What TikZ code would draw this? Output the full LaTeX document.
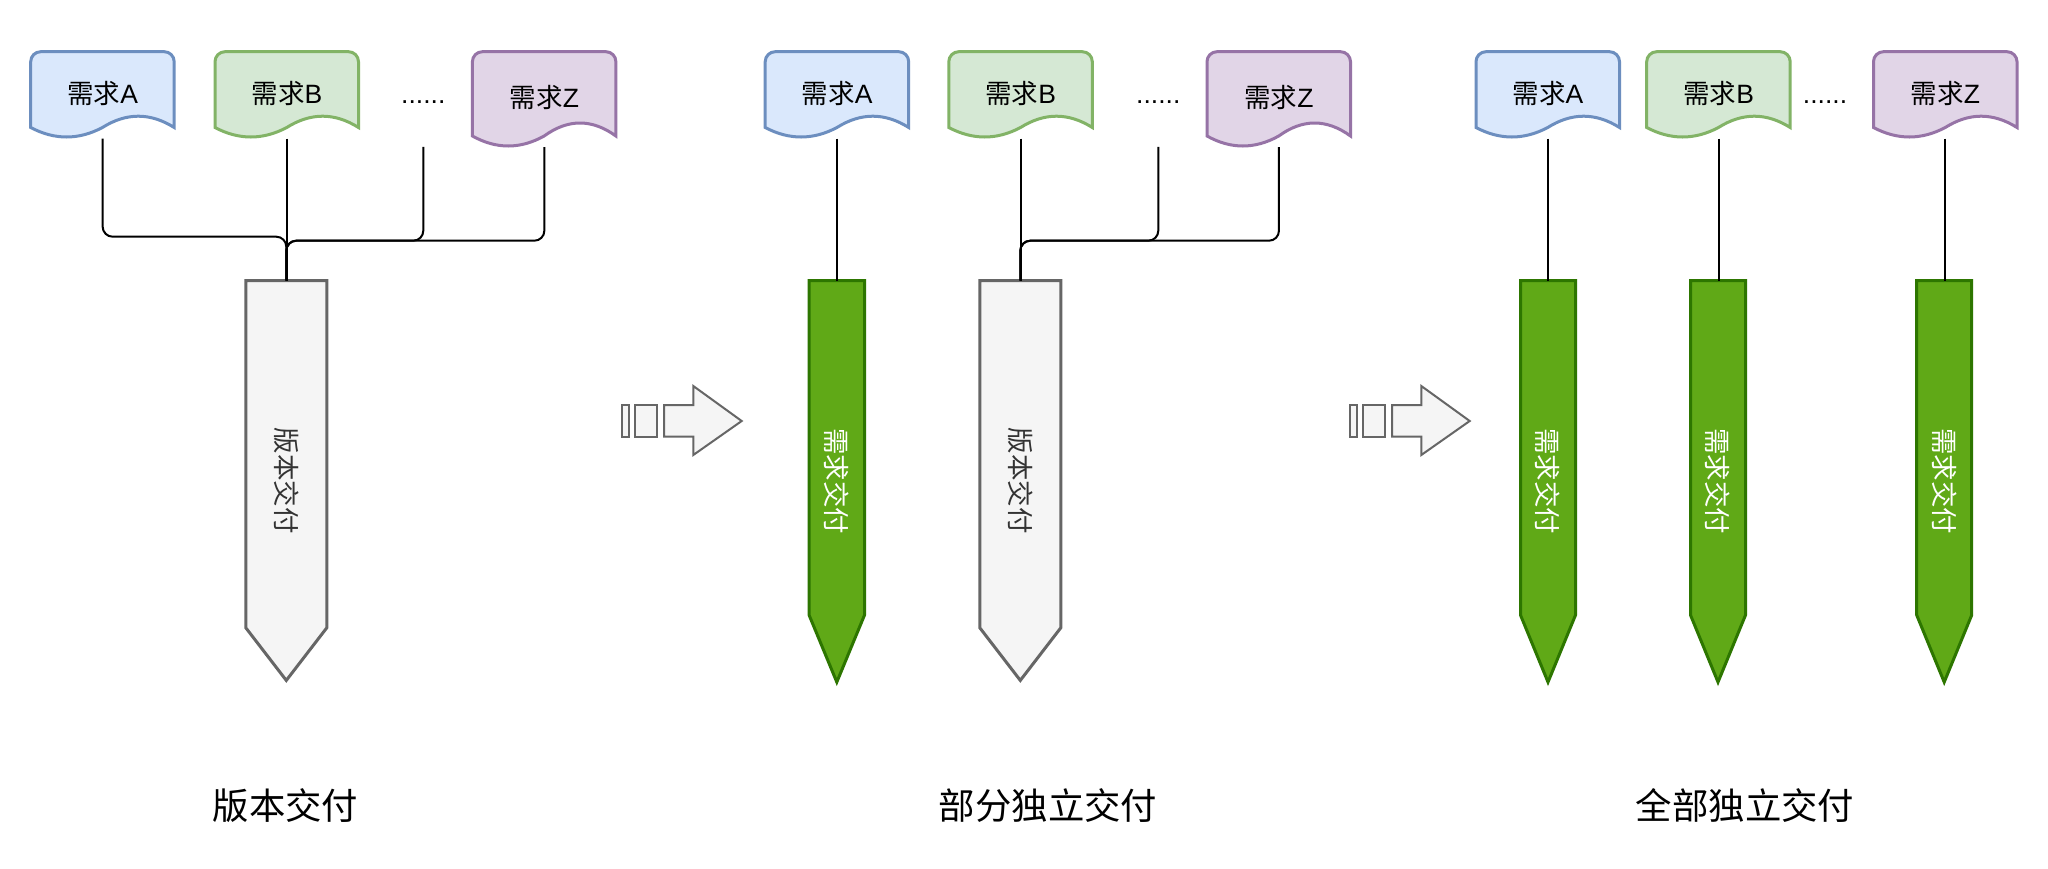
\documentclass[tikz,border=0pt]{standalone}
\usepackage{fontspec}
\setmainfont{Liberation Sans}
\newfontfamily\cjk{Noto Sans CJK SC}
\usetikzlibrary{calc}
\definecolor{aFill}{HTML}{DAE8FC}\definecolor{aLine}{HTML}{6C8EBF}
\definecolor{bFill}{HTML}{D5E8D4}\definecolor{bLine}{HTML}{82B366}
\definecolor{zFill}{HTML}{E1D5E7}\definecolor{zLine}{HTML}{9673A6}
\definecolor{gFill}{HTML}{F5F5F5}\definecolor{gLine}{HTML}{666666}
\definecolor{grFill}{HTML}{60A917}\definecolor{grLine}{HTML}{2D7600}
\definecolor{gText}{HTML}{333333}
\tikzset{
  docA/.style={fill=aFill,draw=aLine,line width=3pt},
  docB/.style={fill=bFill,draw=bLine,line width=3pt},
  docZ/.style={fill=zFill,draw=zLine,line width=3pt},
  boxnode/.style={inner sep=0pt,minimum width=143.5pt,text height=17pt,text depth=0pt,
    font=\fontsize{26.5}{30}\selectfont},
  dotsnode/.style={inner sep=0pt,minimum width=60pt,minimum height=95pt,text height=8.2pt,text depth=0pt,
    font=\fontsize{26.5}{30}\selectfont},
  barbox/.style={inner sep=0pt,draw=none},
  greybar/.style={fill=gFill,draw=gLine,line width=3pt,line join=miter},
  greenbar/.style={fill=grFill,draw=grLine,line width=3pt,line join=miter},
  bartext/.style={rotate=-90,inner sep=0pt,font=\fontsize{26.5}{30}\selectfont\cjk},
  conn/.style={draw=black,line width=2pt,rounded corners=10pt},
  stepst/.style={fill=gFill,draw=gLine,line width=2pt,line join=miter},
  title/.style={inner sep=0pt,font=\fontsize{36.4}{40}\selectfont\cjk}
}
% #1 name, #2 style, #3 x0, #4 ye, #5 aup, #6 adn, #7 bottom, #8 text
\newcommand\docbox[8]{%
  \draw[#2] ({#3+143.5},#4)
    .. controls ({#3+143.5-23.917},{#4-4*#5/3}) and ({#3+71.75+23.917},{#4-4*#5/3}) .. ({#3+71.75},#4)
    .. controls ({#3+71.75-23.917},{#4+4*#6/3}) and ({#3+23.917},{#4+4*#6/3}) .. (#3,#4)
    -- (#3,61.7) .. controls (#3,56.18) and ({#3+4.48},51.7) .. ({#3+10},51.7)
    -- ({#3+133.5},51.7) .. controls ({#3+139.02},51.7) and ({#3+143.5},56.18) .. ({#3+143.5},61.7)
    -- cycle;
  \node[boxnode,anchor=north west,minimum height={#7-51.7}] (#1) at (#3,51.7) {#8};
}
% #1 name, #2 style, #3 cx, #4 width, #5 total height, #6 tip depth
\newcommand\barshape[6]{%
  \node[barbox,minimum width=#4,minimum height=#5,anchor=north] (#1) at (#3,280.7) {};
  \draw[#2] (#1.north west) -- (#1.north east) -- ($(#1.south east)+(0,-#6)$)
    -- (#1.south) -- ($(#1.south west)+(0,-#6)$) -- cycle;
}
\newcommand\steparrow{%
  \draw[stepst] (621.7,405) rectangle (629.3,436.7);
  \draw[stepst] (635,405) rectangle (656.7,436.7);
  \draw[stepst] (664,405) -- (693.3,405) -- (693.3,386) -- (741.7,421) -- (693.3,455)
    -- (693.3,436.7) -- (664,436.7) -- cycle;
}
\begin{document}
\begin{tikzpicture}[x=1pt,y=-1pt]
\useasboundingbox[fill=white] (0,0) rectangle (2048,868);

% ---------- panel 1 ----------
\docbox{p1a}{docA}{30.7}{127.5}{11.3}{9.5}{138.3}{{\cjk 需求}A}
\docbox{p1b}{docB}{215}{127.5}{11.3}{9.5}{138.3}{{\cjk 需求}B}
\node[dotsnode] (p1d) at (423.3,99.2) {......};
\docbox{p1z}{docZ}{472.4}{136}{13}{10}{146.7}{{\cjk 需求}Z}
\barshape{bar1}{greybar}{286.3}{80.7}{399.3}{52.7}
\node[bartext,text=gText] (bar1t) at (bar1.center) {版本交付};
\draw[conn] (p1a.south) |- ($(bar1.north)+(0,-44)$) -- (bar1.north);
\draw[conn] (p1b.south) -- (p1b.south |- bar1.north);
\draw[conn] (p1d.south) |- ($(bar1.north)+(0,-40)$) -- (bar1.north);
\draw[conn] (p1z.south) |- ($(bar1.north)+(0,-40)$) -- (bar1.north);
\node[title] (t1) at (285.5,805.6) {版本交付};

% ---------- arrows ----------
\steparrow
\begin{scope}[xshift=728pt]
\steparrow
\end{scope}

% ---------- panel 2 ----------
\docbox{p2a}{docA}{765.2}{127.5}{11.3}{9.5}{138.3}{{\cjk 需求}A}
\docbox{p2b}{docB}{948.8}{127.5}{11.3}{9.5}{138.3}{{\cjk 需求}B}
\node[dotsnode] (p2d) at (1158.3,99.2) {......};
\docbox{p2z}{docZ}{1207}{136}{13}{10}{146.7}{{\cjk 需求}Z}
\barshape{g2a}{greenbar}{836.8}{55}{401}{67}
\node[bartext,text=white] (g2at) at (g2a.center) {需求交付};
\barshape{bar2}{greybar}{1020.3}{80.7}{399.3}{52.7}
\node[bartext,text=gText] (bar2t) at (bar2.center) {版本交付};
\draw[conn] (p2a.south) -- (p2a.south |- g2a.north);
\draw[conn] (p2b.south) -- (p2b.south |- bar2.north);
\draw[conn] (p2d.south) |- ($(bar2.north)+(0,-40)$) -- (bar2.north);
\draw[conn] (p2z.south) |- ($(bar2.north)+(0,-40)$) -- (bar2.north);
\node[title] (t2) at (1048,805.6) {部分独立交付};

% ---------- panel 3 ----------
\docbox{p3a}{docA}{1476}{127.5}{11.3}{9.5}{138.3}{{\cjk 需求}A}
\docbox{p3b}{docB}{1646.7}{127.5}{11.3}{9.5}{138.3}{{\cjk 需求}B}
\node[dotsnode] (p3d) at (1825,99.2) {......};
\docbox{p3z}{docZ}{1873.5}{127.5}{11.3}{9.5}{138.3}{{\cjk 需求}Z}
\barshape{g3a}{greenbar}{1548}{54.6}{401}{67}
\barshape{g3b}{greenbar}{1718}{54.6}{401}{67}
\barshape{g3z}{greenbar}{1944.2}{54.6}{401}{67}
\node[bartext,text=white] (g3at) at (g3a.center) {需求交付};
\node[bartext,text=white] (g3bt) at (g3b.center) {需求交付};
\node[bartext,text=white] (g3zt) at (g3z.center) {需求交付};
\draw[conn] (p3a.south) -- (p3a.south |- g3a.north);
\draw[conn] (p3b.south) -- (p3b.south |- g3b.north);
\draw[conn] (p3z.south) -- (p3z.south |- g3z.north);
\node[title] (t3) at (1745,805.6) {全部独立交付};
\end{tikzpicture}
\end{document}
